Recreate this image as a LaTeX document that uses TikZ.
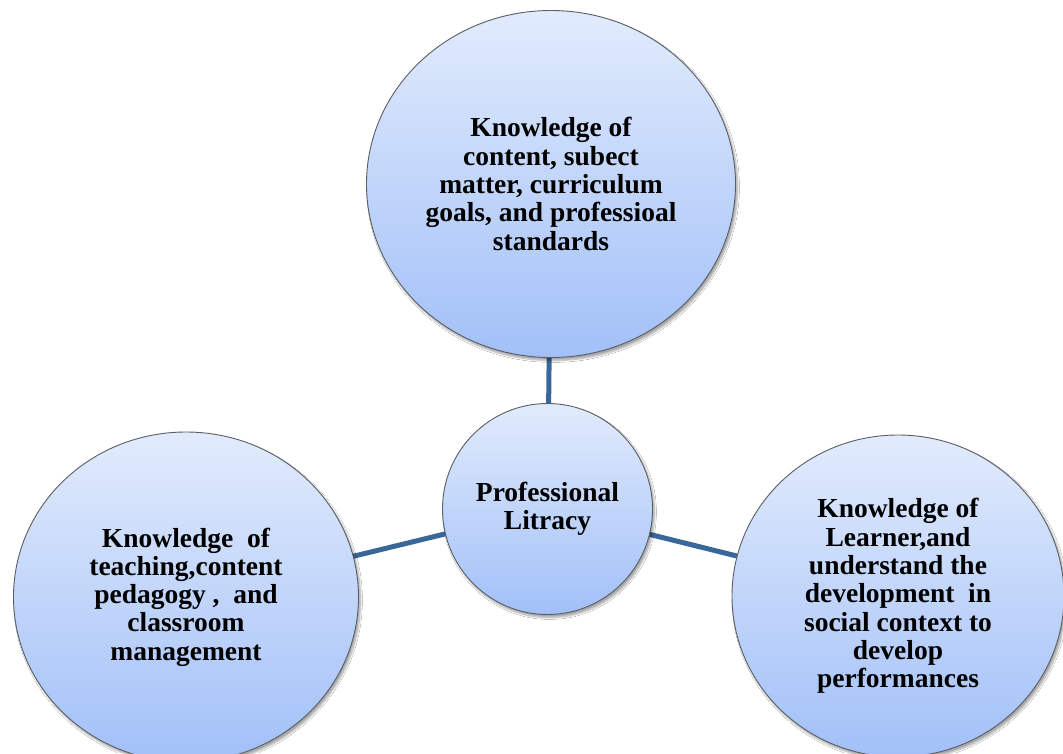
\documentclass[tikz,border=0pt]{standalone}
\usepackage{fontspec}
\setmainfont{Liberation Serif}
\usetikzlibrary{shadows.blur,shapes.geometric,backgrounds}

\definecolor{bubbletop}{HTML}{E1EBFC}
\definecolor{bubblebottom}{HTML}{A2C0F8}
\definecolor{bubbleedge}{HTML}{5A5E66}
\definecolor{linkblue}{HTML}{3A6799}

\tikzset{
  bubble/.style={
    ellipse, draw=bubbleedge, line width=0.9pt,
    top color=bubbletop, bottom color=bubblebottom,
    blur shadow={shadow xshift=2pt, shadow yshift=-3pt,
                 shadow blur steps=6, shadow blur extra rounding=1pt,
                 shadow opacity=35},
    inner sep=0pt, align=center,
    font=\fontsize{27.5}{28.3}\selectfont\bfseries
  },
  link/.style={draw=linkblue, line width=5pt}
}

\begin{document}
\begin{tikzpicture}[x=1pt, y=-1pt]
  \useasboundingbox (0,0) rectangle (1063,753);
  \clip (0,0) rectangle (1063,753);

  % the four bubbles
  \node[bubble, minimum width=369pt, minimum height=347pt] (content) at (551,184)
    {Knowledge of\\content, subect\\matter, curriculum\\goals, and professioal\\standards};
  \node[bubble, minimum width=210pt, minimum height=211pt] (core) at (547.5,509)
    {Professional\\Litracy};
  \node[bubble, minimum width=345pt, minimum height=330pt] (teach) at (186,597)
    {Knowledge~ of\\teaching,content\\pedagogy ,~ and\\classroom\\management};
  \node[bubble, minimum width=332pt, minimum height=322pt] (learner) at (898,596)
    {Knowledge of\\Learner,and\\understand the\\development~ in\\social context to\\develop\\performances};

  % white page, then the spokes from the core to each bubble, behind the bubbles
  \begin{scope}[on background layer]
    \fill[white] (0,0) rectangle (1063,753);
    \path[link] (core.center) -- (content.center);
    \path[link] (core.center) -- (teach.center);
    \path[link] (core.center) -- (learner.center);
  \end{scope}
\end{tikzpicture}
\end{document}
